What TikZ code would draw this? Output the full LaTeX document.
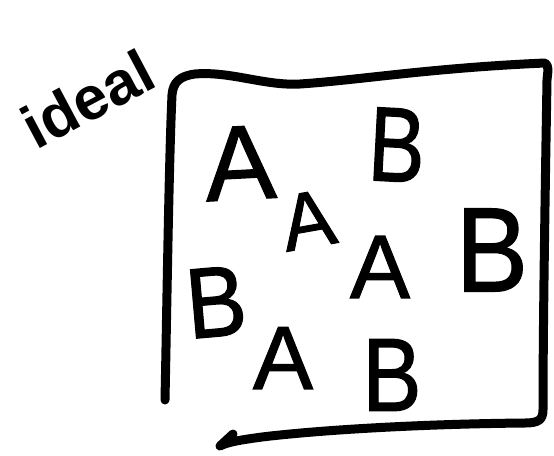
\documentclass[tikz,border=0pt]{standalone}
\usepackage{fontspec}
\setmainfont{Liberation Sans}
\newfontfamily\handfont[FakeBold=1.2]{Liberation Sans}
\begin{document}
\begin{tikzpicture}[x=1pt,y=-1pt,
  ink/.style={line width=9pt,line cap=round,line join=round},
  letter/.style={inner sep=0pt,anchor=center,font=\handfont\fontsize{#1}{#1}\selectfont},
  letter/.default=100]
\useasboundingbox (0,0) rectangle (554,455);
% frame
\draw[ink] (165,400) .. controls (167,300) and (169,160) .. (172,95)
  .. controls (173,82) and (180,76) .. (195,74)
  .. controls (230,71) and (265,86) .. (300,84)
  .. controls (360,80) and (430,68) .. (545,63)
  .. controls (549,66) and (548,70) .. (547,80)
  .. controls (545,200) and (543,330) .. (543,410)
  .. controls (543,420) and (538,423) .. (525,423)
  .. controls (420,424) and (320,430) .. (262,437)
  .. controls (240,440) and (228,442) .. (220,446)
  -- (233,434);
% handwritten title
\node[inner sep=0pt,rotate=28,font=\fontsize{61}{61}\selectfont\bfseries] (title) at (88,99) {ideal};
% letters
\node[letter=106,rotate=3] (a1) at (240,163) {A};
\node[letter=106,rotate=-3,xscale=0.8] (b1) at (397,145) {B};
\node[letter=80,rotate=10] (a2) at (308,220) {A};
\node[letter=90] (a3) at (380,267) {A};
\node[letter=120,xscale=0.9] (b2) at (492,250) {B};
\node[letter=100,rotate=5,xscale=0.9] (b3) at (216,302) {B};
\node[letter=90] (a4) at (283,358) {A};
\node[letter=104,xscale=0.85] (b4) at (392,375) {B};
\end{tikzpicture}
\end{document}
